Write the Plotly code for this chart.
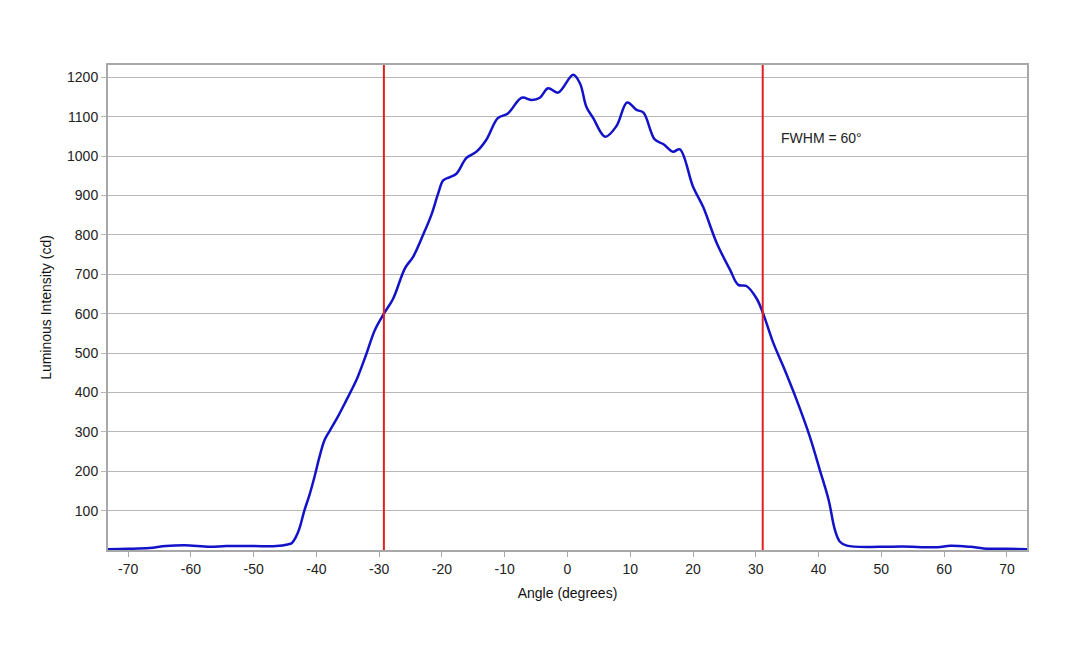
import plotly.graph_objects as go

angle = [-73.2, -70, -66.6, -64, -61, -57, -54.4, -50, -46.4, -44.6, -43.9, -43.3,
         -42.7, -41.9, -41.1, -40.3, -39.5, -38.7, -37.9, -36.6, -35.2, -34.4, -33.4,
         -32.1, -30.7, -29.25, -27.8, -25.9, -24.6, -23.0, -21.7, -20.6, -19.8, -18.8,
         -17.7, -16.1, -14.5, -12.9, -11.1, -9.5, -7.3, -5.7, -4.4, -3.1, -1.5, 0.9,
         2.0, 3.0, 4.1, 6.0, 7.8, 9.5, 11.0, 12.1, 13.9, 15.3, 16.8, 17.9, 20.0, 21.6,
         23.8, 25.9, 27.2, 28.5, 30.1, 31.1, 32.8, 34.4, 36.5, 38.6, 40.2, 41.6, 42.6,
         43.4, 44.5, 49.8, 53.3, 58.9, 61.0, 64.2, 66.3, 70, 73.2]
intensity = [2, 3, 5, 10, 12, 8, 10, 10, 10, 14, 18, 32,
             55, 101, 140, 186, 237, 279, 302, 338, 381, 406, 440,
             495, 558, 600, 637, 715, 744, 800, 850, 905, 938, 946,
             955, 995, 1011, 1042, 1096, 1108, 1148, 1142, 1148, 1172, 1161, 1206,
             1184, 1125, 1096, 1049, 1076, 1136, 1117, 1110, 1042, 1030, 1011, 1017, 922, 871,
             778, 711, 673, 670, 639, 603, 525, 465, 381, 288, 203, 127, 51,
             21, 11, 8, 9, 7, 11, 8, 4, 3, 2]

fwhm_lines = [-29.25, 31.1]
fwhm_label = "FWHM = 60°"
x_ticks = list(range(-70, 71, 10))
y_ticks = list(range(100, 1201, 100))

font = "Liberation Sans, Arial, sans-serif"

fig = go.Figure()
fig.add_trace(go.Scatter(
    x=angle, y=intensity, mode="lines",
    line=dict(color="#1212C8", width=2.5, shape="spline", smoothing=1.0),
    showlegend=False, hoverinfo="skip"))

for xv in fwhm_lines:
    fig.add_shape(type="line", xref="x", yref="paper", x0=xv, x1=xv, y0=0, y1=1,
                  line=dict(color="#E02020", width=2))

fig.add_annotation(x=33.7, y=1046, xref="x", yref="y", text=fwhm_label,
                   showarrow=False, xanchor="left", yanchor="middle",
                   font=dict(family=font, size=14, color="#222222"))

fig.update_layout(
    width=1080, height=648,
    margin=dict(l=108, r=53, t=65, b=98),
    paper_bgcolor="white", plot_bgcolor="white",
    font=dict(family=font, size=14, color="#222222"),
)
fig.update_xaxes(
    range=[-73.2, 73.2], tickvals=x_ticks, ticktext=[str(v) for v in x_ticks],
    showgrid=False, zeroline=False,
    showline=True, linecolor="#A8A8A8", linewidth=2, mirror=True,
    ticks="outside", ticklen=5, tickcolor="#A8A8A8", tickwidth=1,
    title=dict(text="Angle (degrees)", font=dict(family=font, size=14, color="#111111"), standoff=12),
)
fig.update_yaxes(
    range=[0, 1231], tickvals=y_ticks, ticktext=[str(v) for v in y_ticks],
    showgrid=True, gridcolor="#B8B8B8", gridwidth=1.3, zeroline=False,
    showline=True, linecolor="#A8A8A8", linewidth=2, mirror=True,
    ticks="outside", ticklen=5, tickcolor="#B8B8B8", tickwidth=1,
    title=dict(text="Luminous Intensity (cd)", font=dict(family=font, size=14, color="#111111"), standoff=12),
)

fig.write_html("out.html")
